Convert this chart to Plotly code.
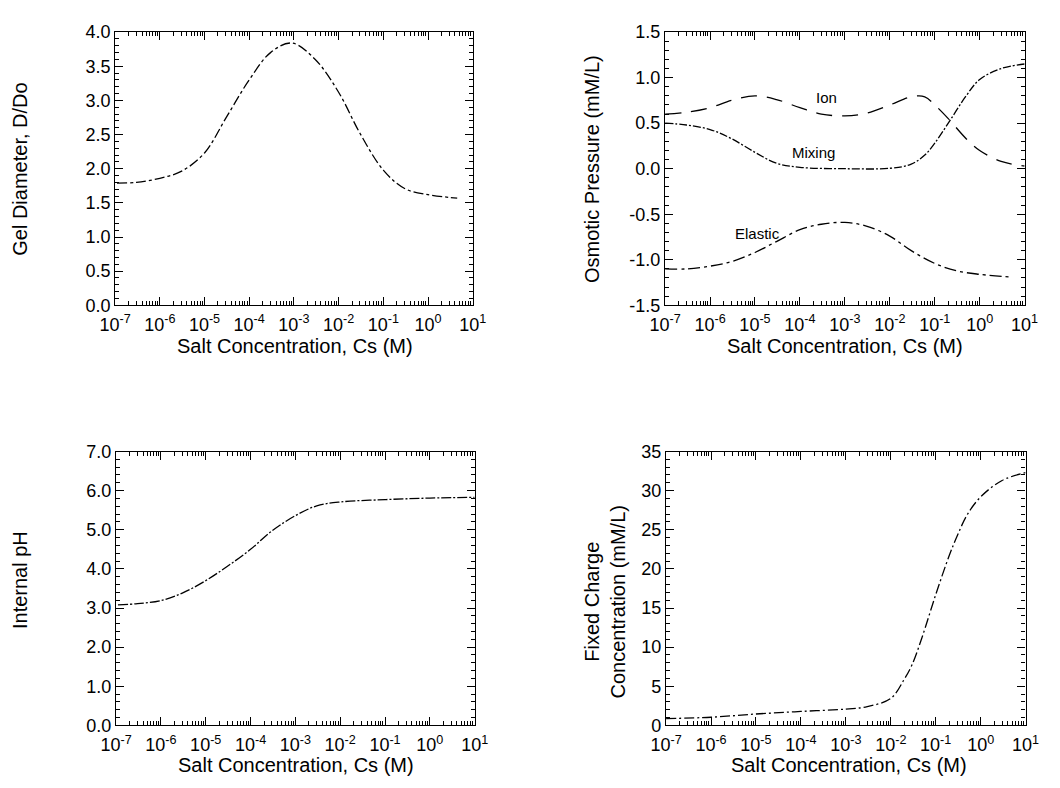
import plotly.graph_objects as go

# ---------------- data ----------------
# Gel diameter (top-left)
cs_gel = [1.1e-7, 3e-7, 1e-6, 3e-6, 1e-5, 3e-5, 1e-4, 3e-4, 9e-4, 3e-3, 1e-2, 3e-2, 1e-1, 3e-1, 1.0, 3.0, 4.5]
gel_d = [1.79, 1.80, 1.86, 1.96, 2.23, 2.74, 3.30, 3.70, 3.84, 3.60, 3.12, 2.52, 1.98, 1.71, 1.62, 1.58, 1.57]

# Osmotic pressure (top-right)
cs_ion = [1e-7, 3e-7, 1e-6, 3e-6, 1e-5, 3e-5, 1e-4, 3e-4, 1e-3, 3e-3, 1e-2, 3e-2, 6e-2, 1e-1, 2e-1, 5e-1, 1.0, 3.0, 10.0]
ion = [0.60, 0.62, 0.67, 0.75, 0.80, 0.76, 0.67, 0.60, 0.58, 0.61, 0.70, 0.79, 0.79, 0.70, 0.55, 0.33, 0.20, 0.08, 0.03]

cs_mix = [1e-7, 3e-7, 1e-6, 3e-6, 1e-5, 3e-5, 1e-4, 1e-3, 1e-2, 3e-2, 6e-2, 1e-1, 2e-1, 5e-1, 1.0, 3.0, 10.0]
mixing = [0.50, 0.48, 0.43, 0.33, 0.18, 0.06, 0.015, 0.0, 0.005, 0.05, 0.15, 0.28, 0.50, 0.80, 0.98, 1.10, 1.15]

cs_ela = [1e-7, 3e-7, 1e-6, 3e-6, 1e-5, 3e-5, 1e-4, 3e-4, 1e-3, 3e-3, 1e-2, 3e-2, 1e-1, 3e-1, 1.0, 5.0]
elastic = [-1.10, -1.10, -1.07, -1.02, -0.92, -0.80, -0.67, -0.61, -0.59, -0.63, -0.74, -0.90, -1.04, -1.12, -1.16, -1.19]

# Internal pH (bottom-left)
cs_ph = [1.1e-7, 3e-7, 1e-6, 3e-6, 1e-5, 3e-5, 1e-4, 3e-4, 1e-3, 3e-3, 1e-2, 1e-1, 1.0, 10.0]
ph = [3.08, 3.11, 3.19, 3.38, 3.70, 4.06, 4.50, 4.97, 5.36, 5.61, 5.71, 5.77, 5.81, 5.83]

# Fixed charge (bottom-right)
cs_fc = [1e-7, 1e-6, 1e-5, 1e-4, 1e-3, 3e-3, 1e-2, 2e-2, 3e-2, 5e-2, 1e-1, 2e-1, 3e-1, 5e-1, 1.0, 3.0, 10.0]
fixed = [0.87, 1.04, 1.45, 1.78, 2.08, 2.40, 3.44, 5.90, 7.80, 11.3, 16.7, 21.7, 24.2, 26.9, 29.2, 31.3, 32.3]

x_tickvals = [1e-7, 1e-6, 1e-5, 1e-4, 1e-3, 1e-2, 1e-1, 1, 10]
x_ticktext = ["10<sup>-7</sup>", "10<sup>-6</sup>", "10<sup>-5</sup>", "10<sup>-4</sup>",
              "10<sup>-3</sup>", "10<sup>-2</sup>", "10<sup>-1</sup>", "10<sup>0</sup>", "10<sup>1</sup>"]

y1_vals = [0.0, 0.5, 1.0, 1.5, 2.0, 2.5, 3.0, 3.5, 4.0]
y2_vals = [-1.5, -1.0, -0.5, 0.0, 0.5, 1.0, 1.5]
y3_vals = [0.0, 1.0, 2.0, 3.0, 4.0, 5.0, 6.0, 7.0]
y4_vals = [0, 5, 10, 15, 20, 25, 30, 35]

FONT = "Liberation Sans, Arial, Helvetica, sans-serif"
W, H = 1060, 788

fig = go.Figure()

line_kw = dict(color="black", width=1.3)

fig.add_trace(go.Scatter(x=cs_gel, y=gel_d, mode="lines", line_shape="spline",
                         line=dict(dash="10px,3px,3px,3px", **line_kw), xaxis="x", yaxis="y"))
fig.add_trace(go.Scatter(x=cs_ion, y=ion, mode="lines", line_shape="spline",
                         line=dict(dash="16px,10px", **line_kw), xaxis="x2", yaxis="y2"))
fig.add_trace(go.Scatter(x=cs_mix, y=mixing, mode="lines", line_shape="spline",
                         line=dict(dash="8px,2px,2px,2px", **line_kw), xaxis="x2", yaxis="y2"))
fig.add_trace(go.Scatter(x=cs_ela, y=elastic, mode="lines", line_shape="spline",
                         line=dict(dash="12px,4px,3px,4px", **line_kw), xaxis="x2", yaxis="y2"))
fig.add_trace(go.Scatter(x=cs_ph, y=ph, mode="lines", line_shape="spline",
                         line=dict(dash="10px,2px,2px,2px", **line_kw), xaxis="x3", yaxis="y3"))
fig.add_trace(go.Scatter(x=cs_fc, y=fixed, mode="lines", line_shape="spline",
                         line=dict(dash="10px,3px,2px,3px", **line_kw), xaxis="x4", yaxis="y4"))


def px_dom_x(a, b):
    return [a / W, b / W]


def px_dom_y(top, bottom):
    return [1 - bottom / H, 1 - top / H]


tickfont = dict(family=FONT, size=18, color="black")

def xaxis(dom, anchor):
    return dict(domain=dom, anchor=anchor, type="log", range=[-7, 1],
                tickvals=x_tickvals, ticktext=x_ticktext, tickfont=tickfont,
                ticks="inside", ticklen=8, tickwidth=1, tickcolor="black",
                ticklabelstandoff=3,
                showline=True, linecolor="black", linewidth=1.2, mirror="ticks",
                showgrid=False, zeroline=False,
                minor=dict(ticks="inside", ticklen=4, tickwidth=1, tickcolor="black",
                           dtick="D1", showgrid=False))

def yaxis(dom, anchor, rng, vals, text, minor_d):
    return dict(domain=dom, anchor=anchor, range=rng, tickvals=vals, ticktext=text,
                tickfont=tickfont, ticks="inside", ticklen=8, tickwidth=1, tickcolor="black",
                showline=True, linecolor="black", linewidth=1.2, mirror="ticks",
                showgrid=False, zeroline=False,
                minor=dict(ticks="inside", ticklen=4, tickwidth=1, tickcolor="black",
                           dtick=minor_d, tick0=0, showgrid=False))

top_y = px_dom_y(22.7, 303)
bot_y = px_dom_y(453, 734)

fig.update_layout(
    width=W, height=H, showlegend=False,
    paper_bgcolor="white", plot_bgcolor="white",
    margin=dict(l=0, r=0, t=0, b=0),
    font=dict(family=FONT, color="black"),
    xaxis=xaxis(px_dom_x(102, 470), "y"),
    yaxis=yaxis(top_y, "x", [0, 4.0], y1_vals, [f"{v:.1f}" for v in y1_vals], 0.1),
    xaxis2=xaxis(px_dom_x(668, 1038), "y2"),
    yaxis2=yaxis(top_y, "x2", [-1.5, 1.5], y2_vals, [f"{v:.1f}" for v in y2_vals], 0.1),
    xaxis3=xaxis(px_dom_x(103, 472), "y3"),
    yaxis3=yaxis(bot_y, "x3", [0, 7.0], y3_vals, [f"{v:.1f}" for v in y3_vals], 0.2),
    xaxis4=xaxis(px_dom_x(669, 1039), "y4"),
    yaxis4=yaxis(bot_y, "x4", [0, 35], y4_vals, [str(v) for v in y4_vals], 1),
)

title_font = dict(family=FONT, size=20, color="black")
anns = [
    # x titles
    dict(text="Salt Concentration, Cs (M)", x=287 / W, y=1 - 345 / H),
    dict(text="Salt Concentration, Cs (M)", x=853 / W, y=1 - 345 / H),
    dict(text="Salt Concentration, Cs (M)", x=288 / W, y=1 - 775 / H),
    dict(text="Salt Concentration, Cs (M)", x=857 / W, y=1 - 775 / H),
    # y titles
    dict(text="Gel Diameter, D/Do", x=4 / W, y=1 - 163 / H, textangle=-90),
    dict(text="Osmotic Pressure (mM/L)", x=593 / W, y=1 - 163 / H, textangle=-90),
    dict(text="Internal pH", x=4 / W, y=1 - 585 / H, textangle=-90),
    dict(text="Fixed Charge<br>Concentration (mM/L)", x=606 / W, y=1 - 607 / H, textangle=-90),
]
for a in anns:
    a.update(xref="paper", yref="paper", showarrow=False, font=title_font,
             xanchor="center", yanchor="middle")
    fig.add_annotation(**a)

# curve labels in the osmotic pressure panel
label_font = dict(family=FONT, size=15, color="black")
fig.add_annotation(text="Ion", x=-3.40, y=0.78, xref="x2", yref="y2", showarrow=False, font=label_font)
fig.add_annotation(text="Mixing", x=-3.70, y=0.175, xref="x2", yref="y2", showarrow=False, font=label_font)
fig.add_annotation(text="Elastic", x=-4.95, y=-0.71, xref="x2", yref="y2", showarrow=False, font=label_font)

fig.write_html("out.html")
